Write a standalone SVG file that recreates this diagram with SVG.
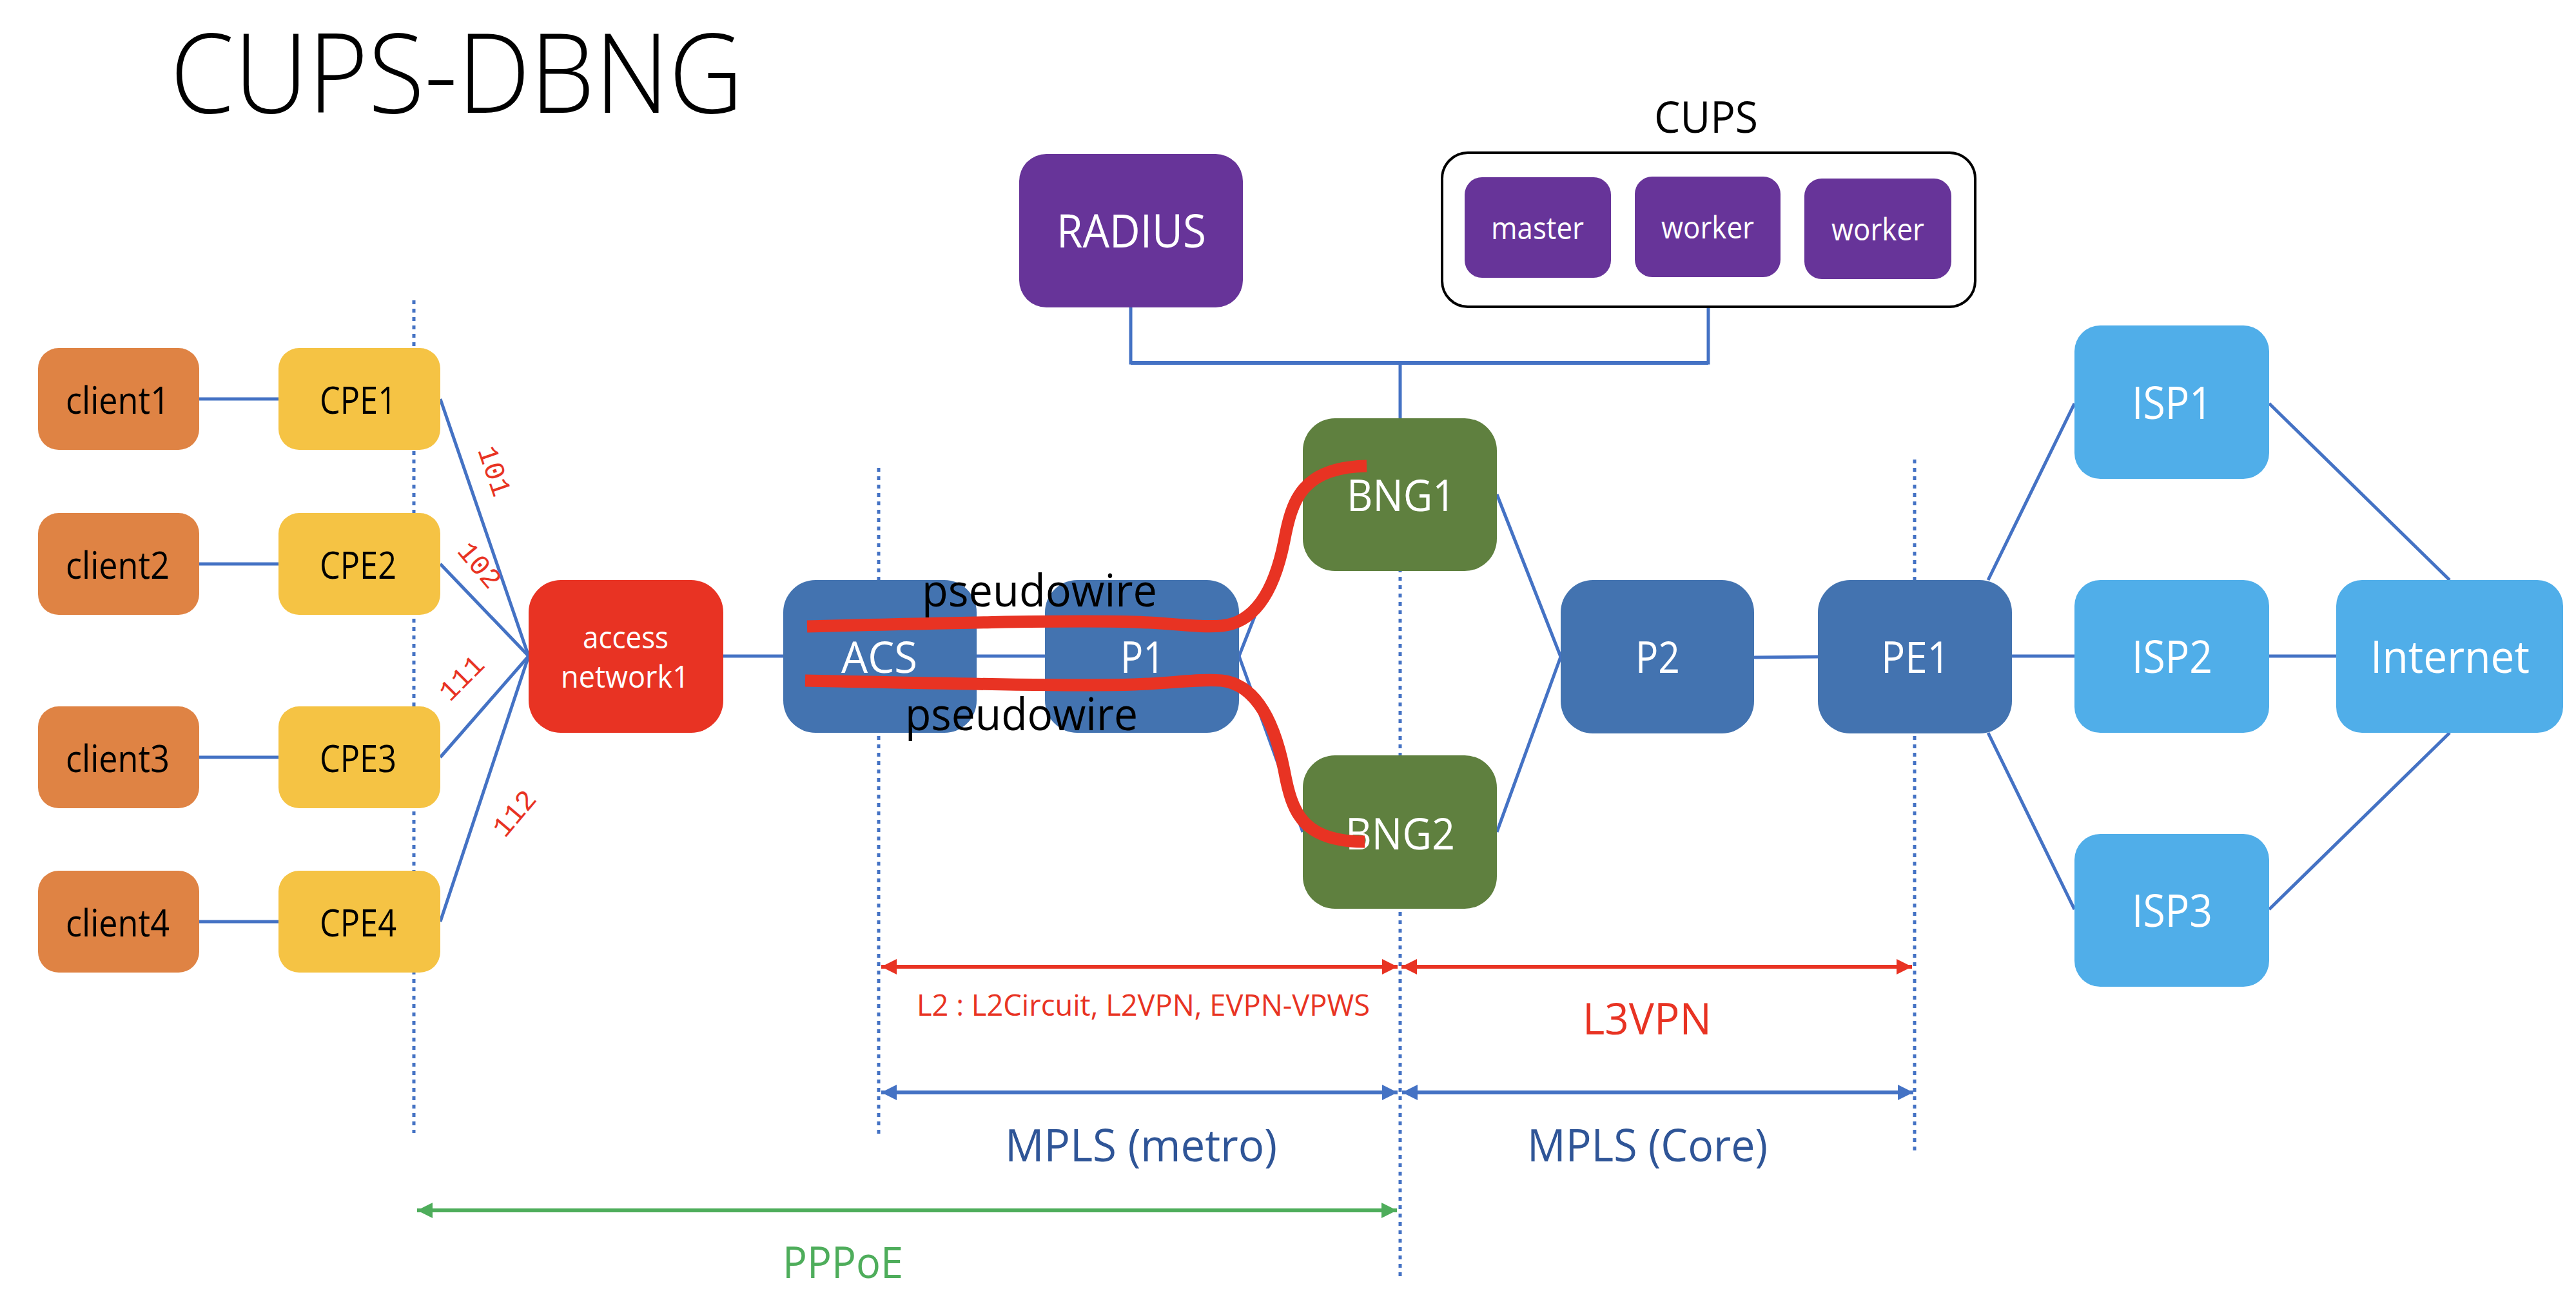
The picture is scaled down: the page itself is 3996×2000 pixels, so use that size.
<svg xmlns="http://www.w3.org/2000/svg" width="3996" height="2000" viewBox="0 0 3996 2000">
<style>
  text { font-family: "Open Sans", "Noto Sans", "Liberation Sans", sans-serif; }
  .w { fill: #ffffff; }
  .k { fill: #000000; }
  .conn { stroke: #4472C4; stroke-width: 5; fill: none; }
  .guide { stroke: #4472C4; stroke-width: 5; stroke-dasharray: 6 7; fill: none; }
  .client { fill: #DF8344; }
  .cpe { fill: #F5C344; }
  .acc { fill: #E83323; }
  .blue { fill: #4373B0; }
  .bng { fill: #5F803F; }
  .isp { fill: #50AEE9; }
  .purple { fill: #673499; }
  .vlan { fill: #E83323; font-family: "Liberation Mono", "DejaVu Sans Mono", monospace; font-size: 44px; }
  .pw { stroke: #E83323; stroke-width: 19; fill: none; stroke-linecap: butt; }
</style>
<defs>
  <marker id="ahRed" markerUnits="userSpaceOnUse" markerWidth="26" markerHeight="26" refX="24" refY="12" orient="auto-start-reverse" viewBox="0 0 26 24">
    <path d="M0,0 L24,12 L0,24 z" fill="#E83323"/>
  </marker>
  <marker id="ahBlue" markerUnits="userSpaceOnUse" markerWidth="26" markerHeight="26" refX="24" refY="12" orient="auto-start-reverse" viewBox="0 0 26 24">
    <path d="M0,0 L24,12 L0,24 z" fill="#4472C4"/>
  </marker>
  <marker id="ahGreen" markerUnits="userSpaceOnUse" markerWidth="26" markerHeight="26" refX="24" refY="12" orient="auto-start-reverse" viewBox="0 0 26 24">
    <path d="M0,0 L24,12 L0,24 z" fill="#4EAD5B"/>
  </marker>
</defs>
<rect width="3996" height="2000" fill="#ffffff"/>

<text x="264" y="175" font-size="171" font-weight="300" textLength="889" lengthAdjust="spacingAndGlyphs" class="k">CUPS-DBNG</text>

<g id="guides">
  <line class="guide" x1="642" y1="466" x2="642" y2="1758"/>
  <line class="guide" x1="1363" y1="726" x2="1363" y2="1760"/>
  <line class="guide" x1="2172" y1="700" x2="2172" y2="1982"/>
  <line class="guide" x1="2970" y1="713" x2="2970" y2="1787"/>
</g>

<g id="connectors">
  <line class="conn" x1="309" y1="619" x2="432" y2="619"/>
  <line class="conn" x1="309" y1="875" x2="432" y2="875"/>
  <line class="conn" x1="309" y1="1175" x2="432" y2="1175"/>
  <line class="conn" x1="309" y1="1430" x2="432" y2="1430"/>
  <line class="conn" x1="683" y1="619" x2="820" y2="1018"/>
  <line class="conn" x1="683" y1="875" x2="820" y2="1018"/>
  <line class="conn" x1="683" y1="1175" x2="820" y2="1018"/>
  <line class="conn" x1="683" y1="1430" x2="820" y2="1018"/>
  <line class="conn" x1="1122" y1="1018" x2="1215" y2="1018"/>
  <line class="conn" x1="1515" y1="1018" x2="1621" y2="1018"/>
  <line class="conn" x1="1922" y1="1018" x2="2021" y2="767"/>
  <line class="conn" x1="1922" y1="1018" x2="2021" y2="1291"/>
  <line class="conn" x1="2322" y1="767" x2="2421" y2="1019"/>
  <line class="conn" x1="2322" y1="1291" x2="2421" y2="1019"/>
  <line class="conn" x1="2721" y1="1020" x2="2820" y2="1019"/>
  <line class="conn" x1="3084" y1="900" x2="3218" y2="626"/>
  <line class="conn" x1="3084" y1="1137" x2="3218" y2="1411"/>
  <line class="conn" x1="3121" y1="1018" x2="3218" y2="1018"/>
  <line class="conn" x1="3520" y1="626" x2="3800" y2="900"/>
  <line class="conn" x1="3520" y1="1411" x2="3800" y2="1137"/>
  <line class="conn" x1="3520" y1="1018" x2="3624" y2="1018"/>
  <polyline class="conn" points="1754,477 1754,563 2650,563 2650,476"/>
  <line class="conn" style="stroke-width:6" x1="1754" y1="563" x2="2650" y2="563"/>
  <line class="conn" x1="2172" y1="563" x2="2172" y2="649"/>
</g>

<g id="client1"><rect class="client" x="59" y="540" width="250" height="158" rx="32"/><text x="102" y="642" font-size="58" textLength="161" lengthAdjust="spacingAndGlyphs" class="k">client1</text></g>
<g id="client2"><rect class="client" x="59" y="796" width="250" height="158" rx="32"/><text x="102" y="898" font-size="58" textLength="161" lengthAdjust="spacingAndGlyphs" class="k">client2</text></g>
<g id="client3"><rect class="client" x="59" y="1096" width="250" height="158" rx="32"/><text x="102" y="1198" font-size="58" textLength="161" lengthAdjust="spacingAndGlyphs" class="k">client3</text></g>
<g id="client4"><rect class="client" x="59" y="1351" width="250" height="158" rx="32"/><text x="102" y="1453" font-size="58" textLength="161" lengthAdjust="spacingAndGlyphs" class="k">client4</text></g>

<g id="cpe1"><rect class="cpe" x="432" y="540" width="251" height="158" rx="32"/><text x="496" y="642" font-size="58" textLength="119" lengthAdjust="spacingAndGlyphs" class="k">CPE1</text></g>
<g id="cpe2"><rect class="cpe" x="432" y="796" width="251" height="158" rx="32"/><text x="496" y="898" font-size="58" textLength="119" lengthAdjust="spacingAndGlyphs" class="k">CPE2</text></g>
<g id="cpe3"><rect class="cpe" x="432" y="1096" width="251" height="158" rx="32"/><text x="496" y="1198" font-size="58" textLength="119" lengthAdjust="spacingAndGlyphs" class="k">CPE3</text></g>
<g id="cpe4"><rect class="cpe" x="432" y="1351" width="251" height="158" rx="32"/><text x="496" y="1453" font-size="58" textLength="119" lengthAdjust="spacingAndGlyphs" class="k">CPE4</text></g>

<g id="vlan-labels">
  <text class="vlan" text-anchor="middle" transform="translate(767,731) rotate(71)" y="14">101</text>
  <text class="vlan" text-anchor="middle" transform="translate(744,877) rotate(50)" y="14">102</text>
  <text class="vlan" text-anchor="middle" transform="translate(716,1052) rotate(-45)" y="14">111</text>
  <text class="vlan" text-anchor="middle" transform="translate(798,1262) rotate(-50)" y="14">112</text>
</g>

<g id="access-network1"><rect class="acc" x="820" y="900" width="302" height="237" rx="50"/>
  <text x="904" y="1006" font-size="47" textLength="133" lengthAdjust="spacingAndGlyphs" class="w">access</text>
  <text x="870" y="1067" font-size="47" textLength="199" lengthAdjust="spacingAndGlyphs" class="w">network1</text></g>

<g id="acs"><rect class="blue" x="1215" y="900" width="300" height="237" rx="50"/><text x="1305" y="1044" font-size="68" textLength="118" lengthAdjust="spacingAndGlyphs" class="w">ACS</text></g>
<g id="p1"><rect class="blue" x="1621" y="900" width="301" height="237" rx="50"/><text x="1738" y="1044" font-size="68" textLength="69" lengthAdjust="spacingAndGlyphs" class="w">P1</text></g>
<g id="bng1"><rect class="bng" x="2021" y="649" width="301" height="237" rx="50"/><text x="2089" y="793" font-size="68" textLength="169" lengthAdjust="spacingAndGlyphs" class="w">BNG1</text></g>
<g id="bng2"><rect class="bng" x="2021" y="1172" width="301" height="238" rx="50"/><text x="2087" y="1318" font-size="68" textLength="170" lengthAdjust="spacingAndGlyphs" class="w">BNG2</text></g>
<g id="p2"><rect class="blue" x="2421" y="900" width="300" height="238" rx="50"/><text x="2537" y="1044" font-size="68" textLength="69" lengthAdjust="spacingAndGlyphs" class="w">P2</text></g>
<g id="pe1"><rect class="blue" x="2820" y="900" width="301" height="238" rx="50"/><text x="2918" y="1044" font-size="68" textLength="107" lengthAdjust="spacingAndGlyphs" class="w">PE1</text></g>
<g id="isp1"><rect class="isp" x="3218" y="505" width="302" height="238" rx="40"/><text x="3307" y="650" font-size="70" textLength="125" lengthAdjust="spacingAndGlyphs" class="w">ISP1</text></g>
<g id="isp2"><rect class="isp" x="3218" y="900" width="302" height="237" rx="40"/><text x="3307" y="1044" font-size="70" textLength="125" lengthAdjust="spacingAndGlyphs" class="w">ISP2</text></g>
<g id="isp3"><rect class="isp" x="3218" y="1294" width="302" height="237" rx="40"/><text x="3307" y="1438" font-size="70" textLength="125" lengthAdjust="spacingAndGlyphs" class="w">ISP3</text></g>
<g id="internet"><rect class="isp" x="3624" y="900" width="352" height="237" rx="40"/><text x="3677" y="1044" font-size="70" textLength="247" lengthAdjust="spacingAndGlyphs" class="w">Internet</text></g>

<g id="radius"><rect class="purple" x="1581" y="239" width="347" height="238" rx="42"/><text x="1639" y="384" font-size="71" textLength="232" lengthAdjust="spacingAndGlyphs" class="w">RADIUS</text></g>

<g id="cups">
  <text x="2566" y="206" font-size="68" textLength="161" lengthAdjust="spacingAndGlyphs" class="k">CUPS</text>
  <rect x="2237" y="237" width="827" height="239" rx="40" fill="#ffffff" stroke="#000000" stroke-width="4"/>
  <g id="master"><rect class="purple" x="2272" y="275" width="227" height="156" rx="27"/><text x="2313" y="371" font-size="47" textLength="144" lengthAdjust="spacingAndGlyphs" class="w">master</text></g>
  <g id="worker1"><rect class="purple" x="2536" y="274" width="226" height="156" rx="27"/><text x="2577" y="370" font-size="47" textLength="144" lengthAdjust="spacingAndGlyphs" class="w">worker</text></g>
  <g id="worker2"><rect class="purple" x="2799" y="277" width="228" height="156" rx="27"/><text x="2841" y="373" font-size="47" textLength="144" lengthAdjust="spacingAndGlyphs" class="w">worker</text></g>
</g>

<g id="pseudowires">
  <path class="pw" d="M1252,972 C1450,967 1650,962 1760,965 C1820,967 1860,974 1895,971 C1950,966 1978,910 1992,840 C2004,775 2020,725 2120,723"/>
  <path class="pw" d="M1249,1056 C1450,1060 1650,1065 1760,1062 C1820,1060 1860,1053 1895,1056 C1950,1062 1978,1125 1992,1195 C2004,1260 2020,1306 2117,1306"/>
  <text x="1430" y="941" font-size="70" textLength="365" lengthAdjust="spacingAndGlyphs" class="k">pseudowire</text>
  <text x="1404" y="1133" font-size="70" textLength="361" lengthAdjust="spacingAndGlyphs" class="k">pseudowire</text>
</g>

<g id="spans">
  <line x1="1367" y1="1500" x2="2168" y2="1500" stroke="#E83323" stroke-width="6" marker-start="url(#ahRed)" marker-end="url(#ahRed)"/>
  <line x1="2174" y1="1500" x2="2966" y2="1500" stroke="#E83323" stroke-width="6" marker-start="url(#ahRed)" marker-end="url(#ahRed)"/>
  <text x="1422" y="1576" font-size="46" textLength="703" lengthAdjust="spacingAndGlyphs" fill="#E83323">L2 : L2Circuit, L2VPN, EVPN-VPWS</text>
  <text x="2455" y="1605" font-size="67" textLength="200" lengthAdjust="spacingAndGlyphs" fill="#E83323">L3VPN</text>
  <line x1="1367" y1="1695" x2="2168" y2="1695" stroke="#4472C4" stroke-width="6" marker-start="url(#ahBlue)" marker-end="url(#ahBlue)"/>
  <line x1="2175" y1="1695" x2="2968" y2="1695" stroke="#4472C4" stroke-width="6" marker-start="url(#ahBlue)" marker-end="url(#ahBlue)"/>
  <text x="1559" y="1802" font-size="70" textLength="422" lengthAdjust="spacingAndGlyphs" fill="#2F5597">MPLS (metro)</text>
  <text x="2369" y="1802" font-size="70" textLength="373" lengthAdjust="spacingAndGlyphs" fill="#2F5597">MPLS (Core)</text>
  <line x1="647" y1="1878" x2="2167" y2="1878" stroke="#4EAD5B" stroke-width="6" marker-start="url(#ahGreen)" marker-end="url(#ahGreen)"/>
  <text x="1214" y="1983" font-size="68" textLength="187" lengthAdjust="spacingAndGlyphs" fill="#4EAD5B">PPPoE</text>
</g>
</svg>
